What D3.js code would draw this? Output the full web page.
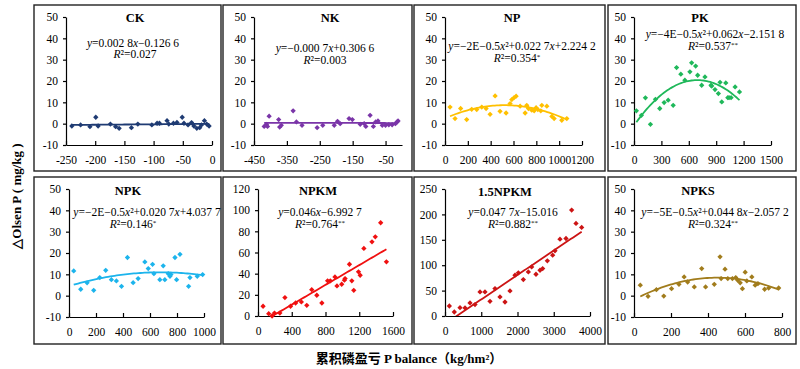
<!DOCTYPE html>
<html>
<head>
<meta charset="utf-8">
<script src="https://cdn.jsdelivr.net/npm/d3@7"></script>
<style>
body { margin: 0; background: #fff; }
text { font-family: "Liberation Serif", "Times New Roman", serif; fill: #000; }
.tick text { font-size: 11.5px; }
.domain, .tick line { stroke: #000; stroke-width: 1.2; }
</style>
</head>
<body>
<svg id="chart" width="800" height="369"></svg>
<script>
// treatments, one panel each
const treatments = ['CK', 'NK', 'NP', 'PK', 'NPK', 'NPKM', '1.5NPKM', 'NPKS'];

// [P balance, ΔOlsen P]
const ckPoints = [[-240,-1.1],[-225,-0.6],[-209,-1.4],[-199,3.0],[-195,-1.1],[-174,-0.2],[-165,-1.4],[-159,-2.2],
    [-138,-1.9],[-127,-0.2],[-103,-0.6],[-94,0.2],[-90,0.2],[-77,1.4],[-74,-0.2],[-66,0.2],[-60,0.6],[-51,3.0],
    [-48,0.2],[-41,-0.6],[-35,0.5],[-31,-1.1],[-26,-2.2],[-21,-1.9],[-18,-0.6],[-13,1.4],[-9,-0.2],[-5,-1.1]];
const nkPoints = [[-419,-1.3],[-412,-0.3],[-404,3.5],[-409,-1.3],[-375,1.9],[-372,-1.6],[-367,-0.8],[-331,6.0],
    [-321,0.8],[-304,-0.8],[-258,-1.9],[-241,-0.8],[-206,-0.8],[-196,1.1],[-188,0],[-161,2.4],[-151,1.9],
    [-127,-0.3],[-115,0],[-110,-1.3],[-97,3.9],[-87,-1.3],[-80,0.8],[-73,1.3],[-60,-0.8],[-50,-0.8],[-40,-0.5],
    [-30,-0.5],[-20,0],[-15,0.8],[-12,1.3]];
const npPoints = [[44,7.8],[88,2.4],[137,7.1],[190,1.9],[234,6.7],[278,6.6],[322,7.8],[360,7.1],[395,4.4],
    [439,13.0],[482,5.8],[535,5.0],[570,9.4],[585,11.3],[605,12.2],[623,12.9],[658,8.2],[702,5.0],[716,8.6],
    [731,7.1],[760,6.3],[781,6.0],[798,7.5],[813,6.6],[839,6.0],[848,8.6],[892,8.2],[936,3.4],[956,2.4],
    [1023,1.6],[1067,2.4]];
const pkPoints = [[26,6.0],[81,3.9],[125,12.1],[180,-0.3],[235,11.4],[282,7.1],[330,9.9],[374,11.0],[429,8.6],
    [466,26.3],[513,23.2],[557,20.4],[612,24.3],[631,28.5],[675,27.0],[697,22.7],[741,18.0],[777,21.9],
    [843,18.0],[851,17.6],[887,16.0],[924,14.1],[942,19.4],[961,10.2],[1005,19.1],[1027,12.2],[1041,12.2],
    [1063,12.2],[1107,17.2],[1155,14.9]];
const npkPoints = [[35,11.6],[87,3.0],[134,6.0],[183,2.5],[228,8.5],[272,11.9],[314,7.5],[351,6.9],[389,4.4],
    [433,17.9],[475,6.1],[512,8.0],[562,15.8],[587,12.7],[619,14.7],[629,10.3],[673,7.5],[698,14.0],[710,7.5],
    [735,10.3],[748,9.1],[755,9.9],[785,17.9],[797,7.5],[822,19.4],[886,4.4],[896,8.5],[950,9.1],[990,9.9]];
const npkmPoints = [[60,9.2],[127,2.2],[167,0],[195,2.8],[259,2.8],[319,17.4],[386,9.2],[446,12.3],[514,13.3],
    [578,10.1],[637,24.9],[697,19.6],[757,12.3],[825,33.2],[857,33.2],[912,36.9],[936,28.4],[992,30.0],
    [1024,33.8],[1032,35.4],[1112,33.2],[1084,48.9],[1135,24.3],[1191,41.7],[1211,38.5],[1255,63.8],
    [1351,70.1],[1390,74.8],[1454,88.1],[1522,51.2]];
const npkm15Points = [[120,19.7],[257,7.9],[414,16.4],[552,15.8],[690,25.7],[828,22.4],[966,47.4],[1103,47.4],
    [1241,28.9],[1379,53.9],[1517,37.5],[1655,27.6],[1793,49.3],[1931,80.3],[2023,84.9],[2161,71.7],
    [2299,86.8],[2391,96.7],[2510,82.2],[2621,90.1],[2694,93.4],[2823,108.6],[2970,119.7],[3034,128.3],
    [3172,151.3],[3338,152.6],[3494,208.6],[3614,182.2],[3770,174.3]];
const npksPoints = [[34,4.9],[76,-0.3],[121,2.8],[161,-0.2],[203,3.3],[243,5.3],[271,8.8],[290,6.4],[326,4.1],
    [366,12.7],[387,4.1],[434,5.3],[465,18.2],[471,8.0],[492,12.4],[507,8.0],[532,8.0],[550,8.5],[561,7.2],
    [574,6.0],[586,3.3],[601,11.0],[610,6.9],[637,8.8],[655,4.9],[670,5.6],[706,3.0],[728,3.6],[782,3.6]];

const panelPoints = [ckPoints, nkPoints, npPoints, pkPoints, npkPoints, npkmPoints, npkm15Points, npksPoints];

// regression text printed in each panel
const equations = ['y=0.002 8x−0.126 6', 'y=−0.000 7x+0.306 6', 'y=−2E−0.5x²+0.022 7x+2.224 2',
    'y=−4E−0.5x²+0.062x−2.151 8', 'y=−2E−0.5x²+0.020 7x+4.037 7', 'y=0.046x−6.992 7',
    'y=0.047 7x−15.016', 'y=−5E−0.5x²+0.044 8x−2.057 2'];
const r2Values = ['0.027', '0.003', '0.354', '0.537', '0.146', '0.764', '0.882', '0.324'];
const r2Stars = ['', '', '*', '**', '*', '**', '**', '**'];
const fitOrders = [1, 1, 2, 2, 2, 1, 1, 2];

// axis domains and tick labels
const xDomains = [[-250, 0], [-450, 0], [0, 1200], [0, 1500], [0, 1000], [0, 1600], [0, 4000], [0, 800]];
const xTickValues = [
    [-250, -200, -150, -100, -50, 0], [-450, -350, -250, -150, -50], [0, 200, 400, 600, 800, 1000, 1200],
    [0, 300, 600, 900, 1200, 1500], [0, 200, 400, 600, 800, 1000], [0, 400, 800, 1200, 1600],
    [0, 1000, 2000, 3000, 4000], [0, 200, 400, 600, 800]];
const yDomains = [[-10, 50], [-10, 50], [-10, 50], [-10, 50], [-10, 50], [0, 120], [0, 250], [-10, 50]];
const yTickValues = [
    [-10, 0, 10, 20, 30, 40, 50], [-10, 0, 10, 20, 30, 40, 50], [-10, 0, 10, 20, 30, 40, 50],
    [-10, 0, 10, 20, 30, 40, 50], [-10, 0, 10, 20, 30, 40, 50], [0, 20, 40, 60, 80, 100, 120],
    [0, 50, 100, 150, 200, 250], [-10, 0, 10, 20, 30, 40, 50]];

const colors = ['#1f3b73', '#7a35a8', '#ffc000', '#1fb85a', '#1cb4ec', '#f01010', '#cc1414', '#a17c1c'];

// layout in pixels
const layout = [
    { frame: [34, 5, 221, 171], x: [66, 212], y: [145, 17], title: [135, 18], eq: [133, 43], r2: [135, 54] },
    { frame: [223, 5, 412, 171], x: [254, 402], y: [145, 17], title: [330, 18], eq: [325, 48], r2: [325, 60] },
    { frame: [414, 5, 605, 171], x: [445, 582], y: [145, 17], title: [512, 18], eq: [522, 46], r2: [517, 58] },
    { frame: [608, 5, 796, 171], x: [634, 771], y: [145, 17], title: [700, 18], eq: [715, 34], r2: [713, 46] },
    { frame: [34, 177, 221, 344], x: [69, 204], y: [317, 189], title: [128, 191], eq: [147, 212], r2: [133, 224] },
    { frame: [223, 177, 412, 344], x: [258, 393], y: [316, 189], title: [318, 191], eq: [320, 212], r2: [320, 224] },
    { frame: [414, 177, 605, 344], x: [445, 590], y: [316, 189], title: [505, 192], eq: [513, 212], r2: [513, 224] },
    { frame: [608, 177, 796, 344], x: [634, 782], y: [317, 189], title: [698, 191], eq: [715, 212], r2: [713, 224] }
];

// least squares polynomial fit (x scaled by 1000 for stability)
function polyfit(pts, order) {
    const n = order + 1;
    const A = Array.from({ length: n }, () => new Array(n).fill(0));
    const b = new Array(n).fill(0);
    pts.forEach(([x0, y]) => {
        const x = x0 / 1000;
        for (let i = 0; i < n; i++) {
            b[i] += y * Math.pow(x, i);
            for (let j = 0; j < n; j++) A[i][j] += Math.pow(x, i + j);
        }
    });
    for (let c = 0; c < n; c++) {
        let p = c;
        for (let r = c + 1; r < n; r++) if (Math.abs(A[r][c]) > Math.abs(A[p][c])) p = r;
        [A[c], A[p]] = [A[p], A[c]];
        [b[c], b[p]] = [b[p], b[c]];
        for (let r = c + 1; r < n; r++) {
            const f = A[r][c] / A[c][c];
            for (let k = c; k < n; k++) A[r][k] -= f * A[c][k];
            b[r] -= f * b[c];
        }
    }
    const coef = new Array(n).fill(0);
    for (let r = n - 1; r >= 0; r--) {
        let s = b[r];
        for (let k = r + 1; k < n; k++) s -= A[r][k] * coef[k];
        coef[r] = s / A[r][r];
    }
    return x => coef.reduce((s, c, i) => s + c * Math.pow(x / 1000, i), 0);
}

const svg = d3.select('#chart');
const plain = d => String(d);

treatments.forEach((name, i) => {
    const L = layout[i];
    const pts = panelPoints[i];
    const color = colors[i];
    const g = svg.append('g');

    g.append('rect')
        .attr('x', L.frame[0]).attr('y', L.frame[1])
        .attr('width', L.frame[2] - L.frame[0]).attr('height', L.frame[3] - L.frame[1])
        .attr('fill', 'none').attr('stroke', '#222').attr('stroke-width', 1.4);

    const x = d3.scaleLinear().domain(xDomains[i]).range(L.x);
    const y = d3.scaleLinear().domain(yDomains[i]).range(L.y);

    g.append('g')
        .attr('transform', `translate(${L.x[0]},0)`)
        .call(d3.axisLeft(y).tickValues(yTickValues[i]).tickFormat(plain)
            .tickSize(3).tickSizeOuter(0).tickPadding(5))
        .attr('font-family', null).attr('font-size', null);
    g.append('g')
        .attr('transform', `translate(0,${L.y[0]})`)
        .call(d3.axisBottom(x).tickValues(xTickValues[i]).tickFormat(plain)
            .tickSize(-4).tickSizeOuter(0).tickPadding(11))
        .attr('font-family', null).attr('font-size', null);

    const clipId = 'clip' + i;
    g.append('clipPath').attr('id', clipId)
        .append('rect')
        .attr('x', L.x[0]).attr('y', L.y[1])
        .attr('width', L.x[1] - L.x[0]).attr('height', L.y[0] - L.y[1]);

    g.selectAll('.pt')
        .data(pts)
        .enter()
        .append('path')
        .attr('class', 'pt')
        .attr('d', d3.symbol(d3.symbolSquare, 14))
        .attr('transform', d => `translate(${x(d[0])},${y(d[1])}) rotate(45)`)
        .attr('fill', color);

    const fit = polyfit(pts, fitOrders[i]);
    const xs = d3.extent(pts, d => d[0]);
    const line = d3.range(0, 61).map(k => {
        const xv = xs[0] + (xs[1] - xs[0]) * k / 60;
        return [xv, fit(xv)];
    });
    g.append('path')
        .datum(line)
        .attr('clip-path', `url(#${clipId})`)
        .attr('fill', 'none')
        .attr('stroke', color)
        .attr('stroke-width', 1.8)
        .attr('d', d3.line().x(d => x(d[0])).y(d => y(d[1])));

    g.append('text')
        .attr('x', L.title[0]).attr('y', L.title[1]).attr('dy', '0.35em')
        .attr('text-anchor', 'middle')
        .style('font-size', '12.5px').style('font-weight', 'bold')
        .text(name);

    const eq = g.append('text')
        .attr('x', L.eq[0]).attr('y', L.eq[1]).attr('dy', '0.35em')
        .attr('text-anchor', 'middle')
        .style('font-size', '11.5px');
    equations[i].split(/([xy])/).filter(s => s.length).forEach(s => {
        eq.append('tspan')
            .style('font-style', s === 'x' || s === 'y' ? 'italic' : 'normal')
            .text(s);
    });

    const r2 = g.append('text')
        .attr('x', L.r2[0]).attr('y', L.r2[1]).attr('dy', '0.35em')
        .attr('text-anchor', 'middle')
        .style('font-size', '11.5px');
    r2.append('tspan').style('font-style', 'italic').text('R');
    r2.append('tspan').text('²=' + r2Values[i]);
    if (r2Stars[i]) {
        r2.append('tspan').attr('dy', '-0.4em').style('font-size', '7px').text(r2Stars[i]);
    }
});

svg.append('text')
    .attr('transform', 'translate(16,196) rotate(-90)')
    .attr('text-anchor', 'middle')
    .attr('dy', '0.35em')
    .style('font-size', '13px').style('font-weight', 'bold')
    .text('△Olsen P ( mg/kg )');

svg.append('text')
    .attr('x', 409).attr('y', 358).attr('dy', '0.35em')
    .attr('text-anchor', 'middle')
    .style('font-family', '"Liberation Serif", "Noto Sans CJK SC", serif')
    .style('font-size', '13px').style('font-weight', 'bold')
    .text('累积磷盈亏 P balance（kg/hm²）');
</script>
</body>
</html>
